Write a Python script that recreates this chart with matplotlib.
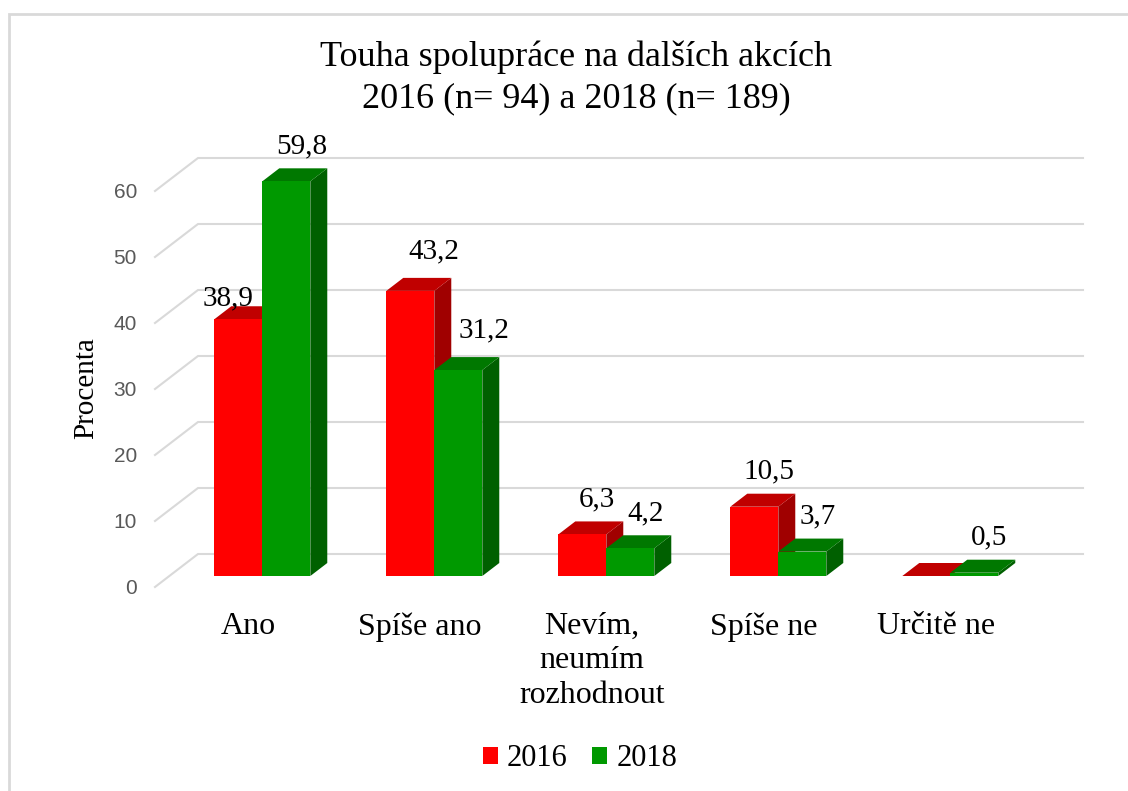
import matplotlib
matplotlib.use('Agg')
import matplotlib.pyplot as plt
from matplotlib.patches import Polygon, Patch, Rectangle

categories = ['Ano', 'Spíše ano', 'Nevím,\nneumím\nrozhodnout', 'Spíše ne', 'Určitě ne']
years = ['2016', '2018']
values_2016 = [38.9, 43.2, 6.3, 10.5, 0.0]
values_2018 = [59.8, 31.2, 4.2, 3.7, 0.5]
yticks = [0, 10, 20, 30, 40, 50, 60]

SERIF = 'Liberation Serif'
PX_X = 172.0   # pixels per category
PX_Y = 6.6     # pixels per percent
X0_PX = 248    # pixel of category 0 at the front of the floor

# depth of the floor in data units (43 px across, 33 px up)
FX = 43 / PX_X
FY = 33 / PX_Y
BAR_W = 48 / PX_X
XL = (155 - X0_PX) / PX_X
XR = (1083 - X0_PX) / PX_X - FX

colors = {
    '2016': ('#FF0000', '#C00000', '#A00000'),
    '2018': ('#009900', '#007800', '#006000'),
}
# label nudges (px) where Excel moved a label
nudge = {(0, 0): (-25, -14), (1, 0): (8, 5), (1, 1): (11, 5)}


def depth(f):
    return FX * f, FY * f


def draw_bar(ax, x0, v, cols):
    front, top, side = cols
    ox, oy = depth(1 / 3)
    bx, by = depth(13 / 33)
    x0 = x0 + ox
    x1 = x0 + BAR_W
    yb = oy
    yt = oy + v
    ax.add_patch(Polygon([(x1, yb), (x1, yt), (x1 + bx, yt + by), (x1 + bx, yb + by)],
                         closed=True, fc=side, ec='none', clip_on=False))
    ax.add_patch(Polygon([(x0, yt), (x1, yt), (x1 + bx, yt + by), (x0 + bx, yt + by)],
                         closed=True, fc=top, ec='none', clip_on=False))
    ax.add_patch(Polygon([(x0, yb), (x1, yb), (x1, yt), (x0, yt)],
                         closed=True, fc=front, ec='none', clip_on=False))


fig = plt.figure(figsize=(11.28, 7.91), dpi=100)
ax = fig.add_axes([155 / 1128, 204 / 791, 935 / 1128, 462 / 791])
ax.set_xlim(XL, XL + 935 / PX_X)
ax.set_ylim(0, 462 / PX_Y)
for s in ax.spines.values():
    s.set_visible(False)

# gridlines: diagonal on the left side + back wall line
for v in yticks:
    ax.plot([XL, XL + FX, XR + FX], [v, v + FY, v + FY], color='#D9D9D9',
            lw=1.5, clip_on=False, zorder=0)

series = [values_2016, values_2018]
for i in range(len(categories)):
    for s, vals in enumerate(series):
        x0 = i - BAR_W + s * BAR_W
        draw_bar(ax, x0, vals[i], colors[years[s]])

# value labels
for i in range(len(categories)):
    for s, vals in enumerate(series):
        v = vals[i]
        if v == 0:
            continue
        dx, dy = nudge.get((i, s), (0, 0))
        cx = i - BAR_W + s * BAR_W + BAR_W / 2 + FX / 3 + (15 + dx) / PX_X
        cy = FY / 3 + v + (35 + dy) / PX_Y
        ax.text(cx, cy, f'{v:.1f}'.replace('.', ','), ha='center', va='center',
                fontsize=21, family=SERIF, color='black')

ax.set_yticks(yticks)
ax.set_yticklabels([str(t) for t in yticks], family='Liberation Sans',
                   fontsize=15, color='#595959')
ax.set_xticks(range(len(categories)))
ax.set_xticklabels(categories, family=SERIF, fontsize=23, linespacing=1.25)
ax.tick_params(axis='y', length=0, pad=13)
ax.tick_params(axis='x', length=0, pad=18)
ax.set_ylabel('Procenta', family=SERIF, fontsize=21)
ax.yaxis.set_label_coords(-(155 - 99) / 935, 0.431)

fig.text(576 / 1128, 1 - 78 / 791, 'Touha spolupráce na dalších akcích\n2016 (n= 94) a 2018 (n= 189)',
         ha='center', va='center', family=SERIF, fontsize=26, linespacing=1.3)

handles = [Patch(fc=colors[y][0], ec='none') for y in years]
fig.legend(handles, years, loc='center', bbox_to_anchor=(580 / 1128, 1 - 759 / 791),
           ncol=2, frameon=False, prop={'family': SERIF, 'size': 22},
           handlelength=0.5, handleheight=0.5, handletextpad=0.3, columnspacing=0.8)

# chart border (top and left edges visible)
fig.add_artist(Rectangle((9 / 1128, -0.05), 1.2, 1 - 14 / 791 + 0.05, transform=fig.transFigure,
                         fill=False, ec='#D9D9D9', lw=2))

fig.savefig('out.png', dpi=100)
